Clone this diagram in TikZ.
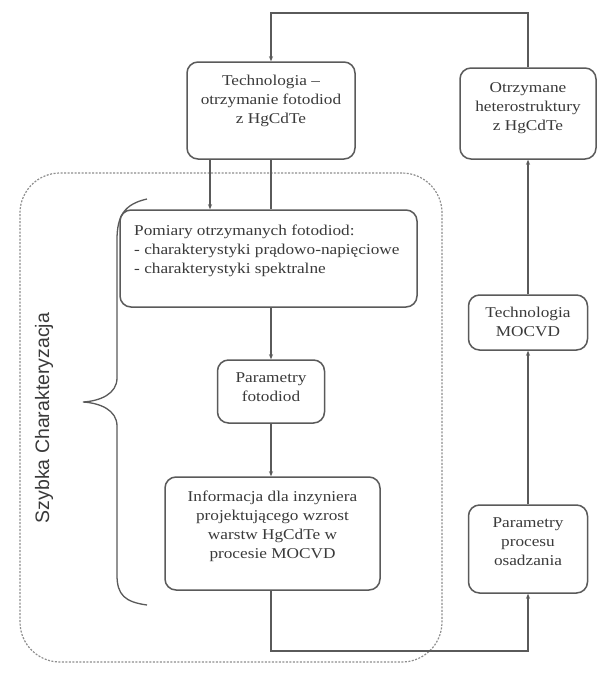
\documentclass[tikz,border=0pt]{standalone}
\usepackage{fontspec}
\setmainfont[FakeStretch=1.15]{Liberation Serif}
\setsansfont{Liberation Sans}
\usetikzlibrary{arrows.meta}
\definecolor{linegray}{HTML}{5A5A5A}
\definecolor{textgray}{HTML}{3A3A3A}
\definecolor{dashgray}{HTML}{8E8E8E}
\begin{document}
\begin{tikzpicture}[x=1pt,y=-1pt,
  box/.style={draw=linegray, line width=1.5pt, rounded corners=11pt, inner sep=0pt},
  txt/.style={text=textgray, align=center, inner sep=0pt, font=\fontsize{15}{19}\selectfont},
  conn/.style={draw=linegray, line width=1.6pt},
  arr/.style={conn, -{Stealth[length=5pt,width=4pt]}}
]
\useasboundingbox (0,0) rectangle (597,673);
\fill[white] (0,0) rectangle (597,673);

% dashed group
\node[draw=dashgray, line width=1.2pt, dash pattern=on 2pt off 1.5pt, rounded corners=40pt,
  minimum width=422pt, minimum height=489pt, inner sep=0pt] (grp) at (231,417.5) {};

% boxes
\node[box, minimum width=168pt, minimum height=97pt] (tech) at (271,110.5) {};
\node[box, minimum width=136pt, minimum height=91pt] (otrz) at (528,113.5) {};
\node[box, minimum width=297pt, minimum height=97pt] (pom) at (268.5,258.5) {};
\node[box, minimum width=107pt, minimum height=63pt] (parf) at (271,391.5) {};
\node[box, minimum width=215pt, minimum height=113pt] (info) at (272.5,533.5) {};
\node[box, minimum width=119pt, minimum height=55pt] (mocvd) at (528,322.5) {};
\node[box, minimum width=119pt, minimum height=88pt] (parp) at (528,549) {};

% texts
\node[txt] (techt) at (271,101) {Technologia –\\otrzymanie fotodiod\\z HgCdTe};
\node[txt] (otrzt) at (528,108) {Otrzymane\\heterostruktury\\z HgCdTe};
\node[txt, align=left, anchor=west] (pomt) at (134,251) {Pomiary otrzymanych fotodiod:\\- charakterystyki prądowo-napięciowe\\- charakterystyki spektralne};
\node[txt] (parft) at (271,387) {Parametry\\fotodiod};
\node[txt] (infot) at (272.5,526) {Informacja dla inzyniera\\projektującego wzrost\\warstw HgCdTe w\\procesie MOCVD};
\node[txt] (mocvdt) at (528,322) {Technologia\\MOCVD};
\node[txt] (parpt) at (528,542) {Parametry\\procesu\\osadzania};

% label
\node[text=textgray, rotate=90, inner sep=0pt, font=\sffamily\fontsize{19.5}{22}\selectfont] (lab) at (44,418) {Szybka Charakteryzacja};

% brace
\draw[draw=linegray, line width=1.3pt] (147,199) .. controls (125,204) and (117,215) .. (117,240)
  -- (117,378) .. controls (117,394) and (100,401) .. (83,402)
  .. controls (100,403) and (117,410) .. (117,426)
  -- (117,575) .. controls (117,595) and (125,602) .. (147,605);

% connectors
\coordinate (topr) at ([yshift=54pt]otrz.north);
\draw[arr] (otrz.north) -- (topr) -| (tech.north);
\draw[arr] ([xshift=-61pt]tech.south) -- ([xshift=-61pt]tech.south |- pom.north);
\draw[conn] (tech.south) -- (tech.south |- pom.north);
\draw[arr] (parf.north |- pom.south) -- (parf.north);
\draw[arr] (parf.south) -- (parf.south |- info.north);
\coordinate (botl) at ([yshift=-60pt]info.south -| parf.south);
\draw[arr] (parf.south |- info.south) -- (botl) -| (parp.south);
\draw[arr] (parp.north) -- (mocvd.south);
\draw[arr] (mocvd.north) -- (otrz.south);
\end{tikzpicture}
\end{document}
